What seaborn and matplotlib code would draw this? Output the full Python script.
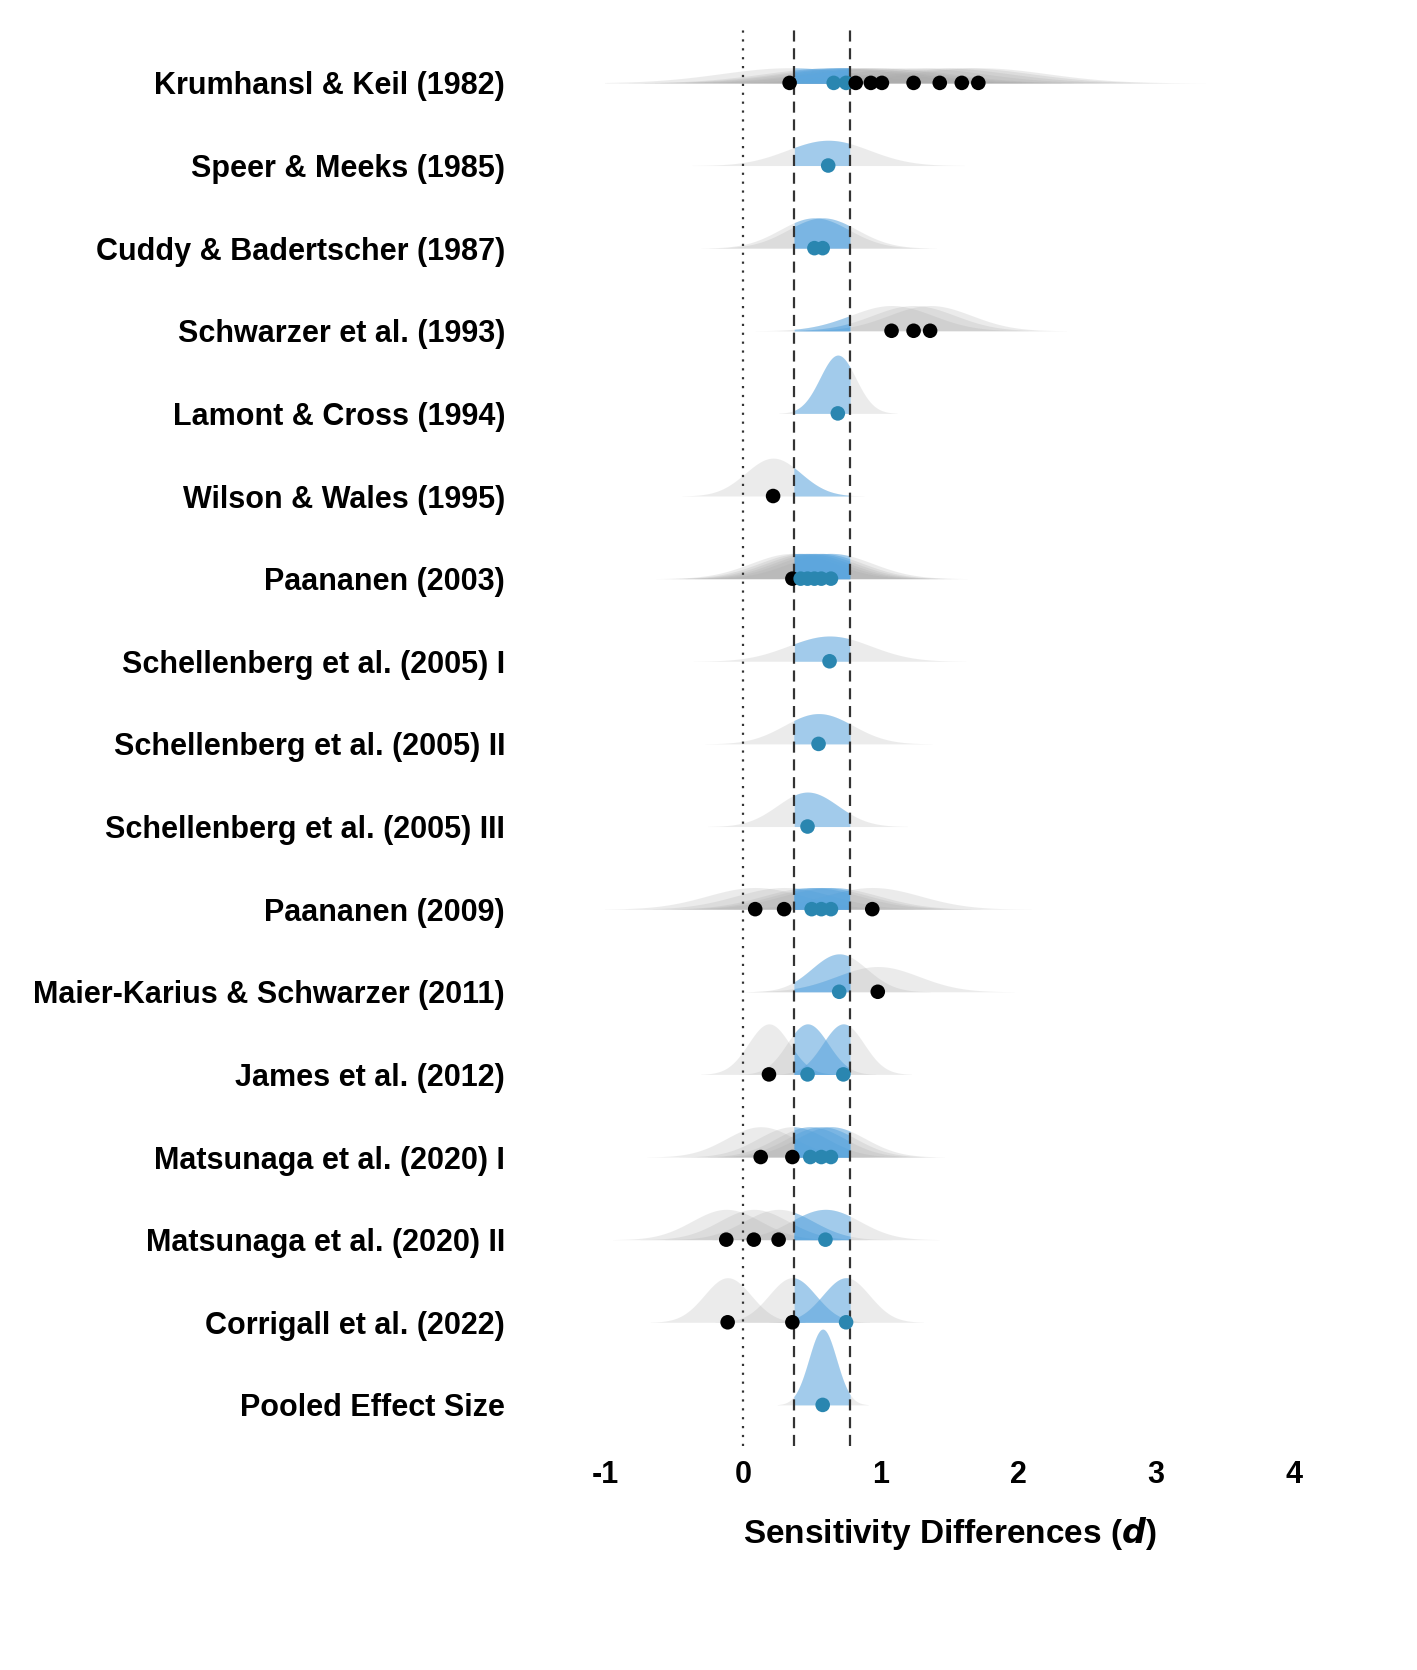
import numpy as np
import pandas as pd
import matplotlib
matplotlib.use("Agg")
import matplotlib.pyplot as plt
import seaborn as sns

studies = ["Krumhansl & Keil (1982)", "Speer & Meeks (1985)", "Cuddy & Badertscher (1987)",
           "Schwarzer et al. (1993)", "Lamont & Cross (1994)", "Wilson & Wales (1995)",
           "Paananen (2003)", "Schellenberg et al. (2005) I", "Schellenberg et al. (2005) II",
           "Schellenberg et al. (2005) III", "Paananen (2009)", "Maier-Karius & Schwarzer (2011)",
           "James et al. (2012)", "Matsunaga et al. (2020) I", "Matsunaga et al. (2020) II",
           "Corrigall et al. (2022)", "Pooled Effect Size"]
effects = [
    [0.34, 0.66, 0.75, 0.82, 0.93, 1.01, 1.24, 1.43, 1.59, 1.71],
    [0.62], [0.52, 0.58], [1.08, 1.24, 1.36], [0.69], [0.22],
    [0.36, 0.42, 0.47, 0.52, 0.57, 0.64], [0.63], [0.55], [0.47],
    [0.09, 0.30, 0.50, 0.57, 0.64, 0.94], [0.70, 0.98], [0.19, 0.47, 0.73],
    [0.13, 0.36, 0.49, 0.57, 0.64], [-0.12, 0.08, 0.26, 0.60], [-0.11, 0.36, 0.75], [0.58]]
sds = [
    [0.5] * 10, [0.3], [0.25, 0.25], [0.3, 0.3, 0.3], [0.13], [0.2],
    [0.3] * 6, [0.3], [0.25], [0.22], [0.35] * 6, [0.2, 0.3], [0.15, 0.15, 0.15],
    [0.25] * 5, [0.25] * 4, [0.17, 0.17, 0.17], [0.1]]
ci_low, ci_high = 0.37, 0.78

rows = []
for i, (s, es, sd) in enumerate(zip(studies, effects, sds)):
    for e, d in zip(es, sd):
        rows.append(dict(study=s, row=i, d=e, sd=d, inside=(ci_low <= e <= ci_high)))
df = pd.DataFrame(rows)

sns.set_style("white")
plt.rcParams['font.family'] = ['Liberation Sans', 'DejaVu Sans']
plt.rcParams['text.color'] = 'black'
plt.rcParams['xtick.color'] = 'black'
plt.rcParams['ytick.color'] = 'black'
plt.rcParams['axes.labelcolor'] = 'black'
fig = plt.figure(figsize=(14.17, 16.7), dpi=100)
ax = fig.add_axes([0.427, 0.134, 0.486, 0.851])

scale = 0.23
for _, r in df.iterrows():
    x = np.linspace(r.d - 3.3 * r.sd, r.d + 3.3 * r.sd, 400)
    pdf = np.exp(-0.5 * ((x - r.d) / r.sd) ** 2) / (r.sd * np.sqrt(2 * np.pi))
    top = r.row - pdf * scale
    ax.fill_between(x, r.row, top, color="#a8a8a8", alpha=0.22, lw=0)
    m = (x >= ci_low) & (x <= ci_high)
    ax.fill_between(x[m], r.row, top[m], color="#49a6ec", alpha=0.45, lw=0)

pal = {True: "#2a86b0", False: "black"}
sns.scatterplot(data=df, x="d", y="row", hue="inside", palette=pal, s=110,
                edgecolor="none", legend=False, ax=ax, zorder=5)

ax.axvline(0, color="#333333", ls=(0, (1, 3)), lw=1.6)
ax.axvline(ci_low, color="#333333", ls=(0, (5, 3)), lw=1.6)
ax.axvline(ci_high, color="#333333", ls=(0, (5, 3)), lw=1.6)

ax.set_xlim(-1, 4)
ax.set_ylim(16.5, -0.7)
ax.set_yticks(range(len(studies)))
ax.set_yticklabels(studies, fontsize=22, fontweight="bold")
ax.set_xticks([-1, 0, 1, 2, 3, 4])
ax.set_xticklabels(["-1", "0", "1", "2", "3", "4"], fontsize=22, fontweight="bold")
ax.tick_params(axis="both", length=0, pad=10)
ax.tick_params(axis="y", pad=72)
for sp in ax.spines.values():
    sp.set_visible(False)
ax.set_ylabel("")
ax.set_xlabel(r"Sensitivity Differences ($\mathbfit{d}$)", fontsize=24, fontweight="bold", labelpad=18)
fig.savefig("out.png", dpi=100)
